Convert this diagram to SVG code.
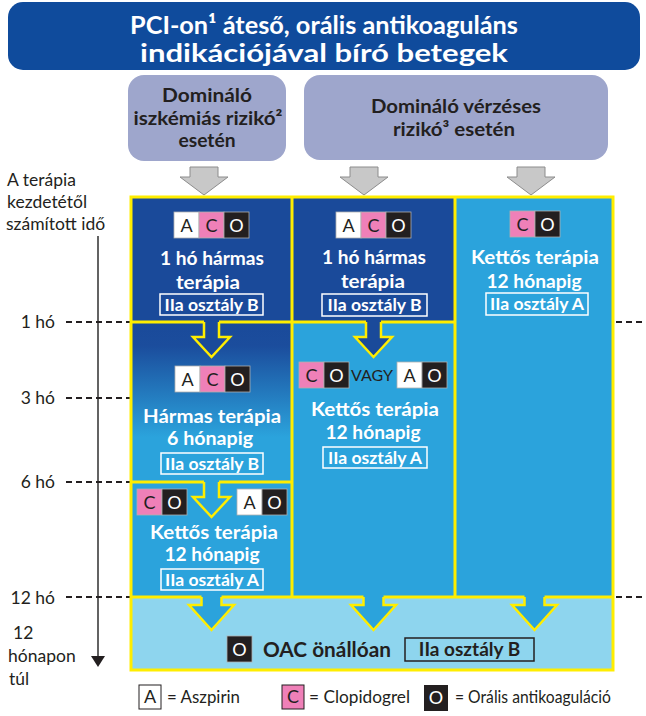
<svg xmlns="http://www.w3.org/2000/svg" xmlns:xlink="http://www.w3.org/1999/xlink" width="646" height="716" viewBox="0 0 646 716">
  <style>
    text { font-family: Lato, "Open Sans", "DejaVu Sans", sans-serif; }
    .hdr { fill: #fff; font-weight: 700; font-size: 25px; text-anchor: middle; }
    .sub { fill: #231f20; font-weight: 700; font-size: 19px; text-anchor: middle; }
    .wt { fill: #fff; font-weight: 700; font-size: 19.5px; text-anchor: middle; }
    .cls { fill: none; stroke: #fff; stroke-width: 1.5; }
    .clt { fill: #fff; font-weight: 700; font-size: 17px; text-anchor: middle; }
    .ax { fill: #231f20; font-size: 17.5px; }
    .axr { fill: #231f20; font-size: 17.5px; text-anchor: end; }
    .dash { stroke: #231f20; stroke-width: 2; stroke-dasharray: 6 4; fill: none; }
    .grid { stroke: #ffed00; stroke-width: 3; fill: none; }
    .aout { stroke: #ffed00; stroke-width: 2.5; fill: none; stroke-linejoin: miter; }
    .garrow { fill: #c8c8c8; stroke: #8c8c8c; stroke-width: 1; }
    .let { font-size: 18px; text-anchor: middle; }
    .leg { fill: #231f20; font-size: 16.5px; }
  </style>
  <defs>
    <linearGradient id="fade" gradientUnits="userSpaceOnUse" x1="0" y1="322" x2="0" y2="482">
      <stop offset="0" stop-color="#1a4a9a"/>
      <stop offset="0.15" stop-color="#1b4d9d"/>
      <stop offset="0.72" stop-color="#2ba3dc"/>
      <stop offset="1" stop-color="#2ba3dc"/>
    </linearGradient>
    <!-- drug tiles: A = aspirin, C = clopidogrel, O = oral anticoagulant -->
    <g id="tA">
      <rect width="25" height="26" fill="#fff" stroke="#b0b0b0" stroke-width="0.8"/>
      <text x="12.5" y="19.5" class="let" fill="#231f20">A</text>
    </g>
    <g id="tC">
      <rect width="25" height="26" fill="#ef80b8" stroke="#b0b0b0" stroke-width="0.8"/>
      <text x="12.5" y="19.5" class="let" fill="#231f20">C</text>
    </g>
    <g id="tO">
      <rect width="25" height="26" fill="#231f20" stroke="#b0b0b0" stroke-width="0.8"/>
      <text x="12.5" y="19.5" class="let" fill="#fff">O</text>
    </g>
  </defs>

  <rect width="646" height="716" fill="#fff"/>

  <!-- title -->
  <g id="title">
    <rect x="8" y="2" width="632" height="68" rx="15" fill="#0f4b9c"/>
    <text x="324" y="34" class="hdr" textLength="388" lengthAdjust="spacingAndGlyphs">PCI-on¹ áteső, orális antikoaguláns</text>
    <text x="324" y="62" class="hdr" textLength="368" lengthAdjust="spacingAndGlyphs">indikációjával bíró betegek</text>
  </g>

  <!-- risk categories -->
  <g id="risk-ischaemic">
    <rect x="128" y="75" width="158" height="86" rx="16" fill="#9ea6cc"/>
    <text x="207" y="102" class="sub" textLength="90" lengthAdjust="spacingAndGlyphs">Domináló</text>
    <text x="208" y="125" class="sub" textLength="149" lengthAdjust="spacingAndGlyphs">iszkémiás rizikó²</text>
    <text x="207" y="147" class="sub" textLength="57" lengthAdjust="spacingAndGlyphs">esetén</text>
  </g>
  <g id="risk-bleeding">
    <rect x="304" y="75" width="304" height="85" rx="16" fill="#9ea6cc"/>
    <text x="456" y="113" class="sub" textLength="170" lengthAdjust="spacingAndGlyphs">Domináló vérzéses</text>
    <text x="454" y="136" class="sub" textLength="122" lengthAdjust="spacingAndGlyphs">rizikó³ esetén</text>
  </g>

  <!-- time axis -->
  <g id="time-axis">
    <text x="7" y="186" class="ax">A terápia</text>
    <text x="7" y="208" class="ax">kezdetétől</text>
    <text x="6" y="230" class="ax">számított idő</text>
    <line x1="98" y1="236" x2="98" y2="658" stroke="#3c3c3c" stroke-width="1.6"/>
    <polygon points="91,656 105,656 98,667" fill="#231f20"/>
    <text x="55" y="328" class="axr">1 hó</text>
    <text x="55" y="404" class="axr">3 hó</text>
    <text x="55" y="488" class="axr">6 hó</text>
    <text x="55" y="604" class="axr">12 hó</text>
    <text x="13" y="639" class="ax">12</text>
    <text x="8" y="662" class="ax">hónapon</text>
    <text x="9" y="685" class="ax">túl</text>
    <line x1="66" y1="322" x2="130" y2="322" class="dash"/>
    <line x1="66" y1="398" x2="130" y2="398" class="dash"/>
    <line x1="66" y1="482" x2="130" y2="482" class="dash"/>
    <line x1="66" y1="597" x2="130" y2="597" class="dash"/>
    <line x1="616" y1="322" x2="646" y2="322" class="dash"/>
    <line x1="616" y1="597" x2="646" y2="597" class="dash"/>
  </g>

  <!-- therapy panel backgrounds -->
  <g id="panels">
    <rect x="131" y="197" width="161" height="125" fill="#1a4a9a"/>
    <rect x="292" y="197" width="163" height="125" fill="#1a4a9a"/>
    <rect x="131" y="322" width="161" height="160" fill="url(#fade)"/>
    <rect x="131" y="482" width="161" height="115" fill="#2ba3dc"/>
    <rect x="292" y="322" width="163" height="275" fill="#2ba3dc"/>
    <rect x="455" y="197" width="158" height="400" fill="#2ba3dc"/>
    <rect x="131" y="597" width="482" height="73" fill="#8ed5ee"/>
  </g>

  <!-- connectors: entry arrows, panel dividers and step arrows -->
  <g id="connectors">
    <path class="garrow" d="M190,167 H218 V177 H228 L204,195 L180,177 H190 Z"/>
    <path class="garrow" d="M350,167 H378 V177 H388 L364,195 L340,177 H350 Z"/>
    <path class="garrow" d="M517,167 H545 V177 H555 L531,195 L507,177 H517 Z"/>

    <line x1="292" y1="197" x2="292" y2="597" class="grid"/>
    <line x1="455" y1="197" x2="455" y2="597" class="grid"/>
    <line x1="131" y1="322" x2="455" y2="322" class="grid"/>
    <line x1="131" y1="482" x2="292" y2="482" class="grid"/>
    <line x1="131" y1="597" x2="613" y2="597" class="grid"/>

    <!-- 1 month -> triple therapy (column 1) -->
    <polygon points="204,319 204,337 193,337 211.5,357 230,337 219,337 219,319" fill="#1a4a9a"/>
    <polyline points="204,322 204,337 193,337 211.5,357 230,337 219,337 219,322" class="aout"/>
    <!-- 6 months -> dual therapy (column 1) -->
    <polygon points="204,479 204,497 193,497 211.5,517 230,497 219,497 219,479" fill="#2ba3dc"/>
    <polyline points="204,482 204,497 193,497 211.5,517 230,497 219,497 219,482" class="aout"/>
    <!-- 1 month -> dual therapy (column 2) -->
    <polygon points="366,319 366,337 355,337 373.5,357 392,337 381,337 381,319" fill="#1a4a9a"/>
    <polyline points="366,322 366,337 355,337 373.5,357 392,337 381,337 381,322" class="aout"/>
    <!-- 12 months -> OAC alone -->
    <polygon points="201.5,594 201.5,605 189,605 211.5,630 234,605 221.5,605 221.5,594" fill="#2ba3dc"/>
    <polyline points="201.5,597 201.5,605 189,605 211.5,630 234,605 221.5,605 221.5,597" class="aout"/>
    <polygon points="363.5,594 363.5,605 351,605 373.5,630 396,605 383.5,605 383.5,594" fill="#2ba3dc"/>
    <polyline points="363.5,597 363.5,605 351,605 373.5,630 396,605 383.5,605 383.5,597" class="aout"/>
    <polygon points="524.5,594 524.5,605 512,605 534.5,630 557,605 544.5,605 544.5,594" fill="#2ba3dc"/>
    <polyline points="524.5,597 524.5,605 512,605 534.5,630 557,605 544.5,605 544.5,597" class="aout"/>

    <rect x="131" y="197" width="482" height="473" class="grid"/>
  </g>

  <!-- column 1 -->
  <g id="c1-triple-1m">
    <use xlink:href="#tA" x="174" y="212"/>
    <use xlink:href="#tC" x="199" y="212"/>
    <use xlink:href="#tO" x="224" y="212"/>
    <text x="212" y="265" class="wt" textLength="104" lengthAdjust="spacingAndGlyphs">1 hó hármas</text>
    <text x="208" y="289" class="wt" textLength="64" lengthAdjust="spacingAndGlyphs">terápia</text>
    <rect x="160" y="294" width="103" height="21" class="cls"/>
    <text x="211.5" y="310.5" class="clt" textLength="94" lengthAdjust="spacingAndGlyphs">IIa osztály B</text>
  </g>
  <g id="c1-triple-6m">
    <use xlink:href="#tA" x="175" y="366"/>
    <use xlink:href="#tC" x="200" y="366"/>
    <use xlink:href="#tO" x="225" y="366"/>
    <text x="212" y="423" class="wt" textLength="138" lengthAdjust="spacingAndGlyphs">Hármas terápia</text>
    <text x="210" y="445" class="wt" textLength="86" lengthAdjust="spacingAndGlyphs">6 hónapig</text>
    <rect x="161" y="453" width="102" height="21" class="cls"/>
    <text x="212" y="469.5" class="clt" textLength="94" lengthAdjust="spacingAndGlyphs">IIa osztály B</text>
  </g>
  <g id="c1-dual-12m">
    <use xlink:href="#tC" x="137" y="489"/>
    <use xlink:href="#tO" x="162" y="489"/>
    <use xlink:href="#tA" x="237" y="489"/>
    <use xlink:href="#tO" x="262" y="489"/>
    <text x="214" y="539" class="wt" textLength="128" lengthAdjust="spacingAndGlyphs">Kettős terápia</text>
    <text x="212" y="561" class="wt" textLength="95" lengthAdjust="spacingAndGlyphs">12 hónapig</text>
    <rect x="161" y="569" width="102" height="21" class="cls"/>
    <text x="212" y="585.5" class="clt" textLength="94" lengthAdjust="spacingAndGlyphs">IIa osztály A</text>
  </g>

  <!-- column 2 -->
  <g id="c2-triple-1m">
    <use xlink:href="#tA" x="336" y="212"/>
    <use xlink:href="#tC" x="361" y="212"/>
    <use xlink:href="#tO" x="386" y="212"/>
    <text x="374" y="264" class="wt" textLength="104" lengthAdjust="spacingAndGlyphs">1 hó hármas</text>
    <text x="373" y="288" class="wt" textLength="64" lengthAdjust="spacingAndGlyphs">terápia</text>
    <rect x="322" y="294" width="105" height="22" class="cls"/>
    <text x="374.5" y="310.5" class="clt" textLength="94" lengthAdjust="spacingAndGlyphs">IIa osztály B</text>
  </g>
  <g id="c2-dual-12m">
    <use xlink:href="#tC" x="299" y="362"/>
    <use xlink:href="#tO" x="324" y="362"/>
    <text x="372" y="381" fill="#231f20" font-size="16" text-anchor="middle">VAGY</text>
    <use xlink:href="#tA" x="397" y="362"/>
    <use xlink:href="#tO" x="422" y="362"/>
    <text x="375" y="416" class="wt" textLength="128" lengthAdjust="spacingAndGlyphs">Kettős terápia</text>
    <text x="373" y="439" class="wt" textLength="95" lengthAdjust="spacingAndGlyphs">12 hónapig</text>
    <rect x="323" y="447" width="104" height="21" class="cls"/>
    <text x="375" y="463.5" class="clt" textLength="94" lengthAdjust="spacingAndGlyphs">IIa osztály A</text>
  </g>

  <!-- column 3 -->
  <g id="c3-dual-12m">
    <use xlink:href="#tC" x="510" y="211"/>
    <use xlink:href="#tO" x="535" y="211"/>
    <text x="535" y="264" class="wt" textLength="128" lengthAdjust="spacingAndGlyphs">Kettős terápia</text>
    <text x="534" y="288" class="wt" textLength="95" lengthAdjust="spacingAndGlyphs">12 hónapig</text>
    <rect x="486" y="293" width="102" height="22" class="cls"/>
    <text x="537" y="309.5" class="clt" textLength="94" lengthAdjust="spacingAndGlyphs">IIa osztály A</text>
  </g>

  <!-- after 12 months -->
  <g id="oac-alone">
    <use xlink:href="#tO" x="227" y="636"/>
    <text x="263" y="657" fill="#231f20" font-size="20" font-weight="700" textLength="128" lengthAdjust="spacingAndGlyphs">OAC önállóan</text>
    <rect x="405" y="638" width="129" height="23" fill="none" stroke="#231f20" stroke-width="1.5"/>
    <text x="469.5" y="656" fill="#231f20" font-size="19" font-weight="700" text-anchor="middle">IIa osztály B</text>
  </g>

  <!-- legend -->
  <g id="legend">
    <rect x="139" y="685" width="22" height="24" fill="#fff" stroke="#231f20" stroke-width="1"/>
    <text x="150" y="703" class="let" fill="#231f20">A</text>
    <text x="167" y="703" class="leg" textLength="73" lengthAdjust="spacingAndGlyphs">= Aszpirin</text>
    <rect x="282" y="685" width="22" height="24" fill="#ef80b8" stroke="#231f20" stroke-width="1"/>
    <text x="293" y="703" class="let" fill="#231f20">C</text>
    <text x="309" y="703" class="leg" textLength="101" lengthAdjust="spacingAndGlyphs">= Clopidogrel</text>
    <rect x="424" y="685" width="24" height="26" fill="#231f20"/>
    <text x="436" y="704" class="let" fill="#fff">O</text>
    <text x="455" y="703" class="leg" textLength="156" lengthAdjust="spacingAndGlyphs">= Orális antikoaguláció</text>
  </g>
</svg>
